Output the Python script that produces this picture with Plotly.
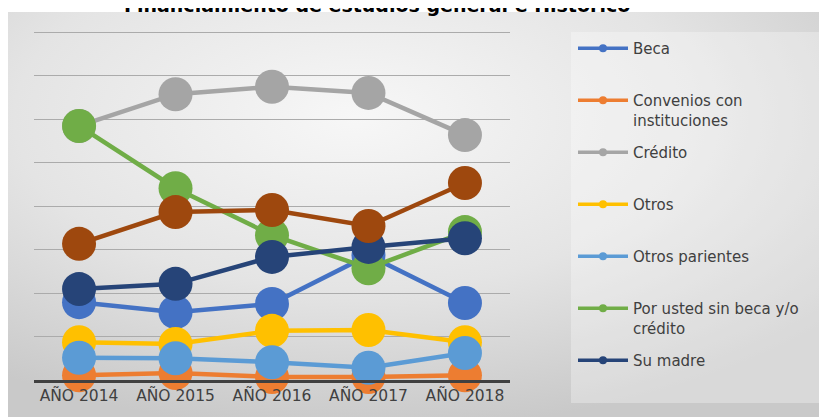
import base64
import plotly.graph_objects as go

years = ["AÑO 2014", "AÑO 2015", "AÑO 2016", "AÑO 2017", "AÑO 2018"]

beca = [1.79, 1.56, 1.75, 2.87, 1.77]
convenios = [0.11, 0.16, 0.07, 0.07, 0.11]
credito = [5.84, 6.57, 6.74, 6.60, 5.63]
otros = [0.87, 0.83, 1.13, 1.15, 0.87]
otros_parientes = [0.51, 0.50, 0.41, 0.28, 0.62]
por_usted = [5.84, 4.41, 3.33, 2.57, 3.40]
su_madre = [2.09, 2.21, 2.83, 3.06, 3.26]
su_padre = [3.13, 3.86, 3.91, 3.54, 4.53]

series = [
    ("Beca", beca, "#4472C4", True),
    ("Convenios con<br>instituciones", convenios, "#ED7D31", True),
    ("Crédito", credito, "#A5A5A5", True),
    ("Otros", otros, "#FFC000", True),
    ("Otros parientes", otros_parientes, "#5B9BD5", True),
    ("Por usted sin beca y/o<br>crédito", por_usted, "#70AD47", True),
    ("Su madre", su_madre, "#264478", True),
    ("Su padre", su_padre, "#9E480E", False),
]

# the page puts the figure 8px in from the top-left corner
OFF = 8
W, H = 827 - OFF, 417 - OFF
ML, MR, MT, MB = 34 - OFF, 827 - 510, 30 - OFF, 417 - 380
pw, ph = W - ML - MR, H - MT - MB
unit = 43.5  # px between gridlines
ytop = ph / unit


def px_x(p):
    return (p - OFF - ML) / pw


def px_y(p):
    return (H - MB - (p - OFF)) / ph


# background gradient of the chart area
svg = (
    '<svg xmlns="http://www.w3.org/2000/svg" width="819" height="407" '
    'viewBox="0 0 819 407" preserveAspectRatio="none">'
    '<defs><radialGradient id="g" cx="0.42" cy="0.25" r="0.75">'
    '<stop offset="0" stop-color="#f7f7f7"/>'
    '<stop offset="0.55" stop-color="#e4e4e4"/>'
    '<stop offset="1" stop-color="#c9c9c9"/>'
    '</radialGradient></defs>'
    '<rect width="819" height="407" fill="url(#g)"/></svg>'
)
bg_src = "data:image/svg+xml;base64," + base64.b64encode(svg.encode()).decode()

fig = go.Figure()

for name, vals, color, legend in series:
    fig.add_scatter(
        x=years, y=vals, mode="lines+markers", name=name.replace("<br>", " "),
        legendgroup=name, showlegend=False,
        line=dict(color=color, width=4.5),
        marker=dict(color=color, size=34),
        cliponaxis=False,
    )
    if legend:
        label = name if ("<br>" in name or name == "Su madre") else name + "<br> "
        fig.add_scatter(
            x=[None], y=[None], mode="lines+markers", name=label,
            legendgroup=name, showlegend=True,
            line=dict(color=color, width=3.5),
            marker=dict(color=color, size=8),
        )

fig.update_layout(
    width=W, height=H,
    margin=dict(l=ML, r=MR, t=MT, b=MB, autoexpand=False),
    paper_bgcolor="white",
    plot_bgcolor="rgba(0,0,0,0)",
    font=dict(family="DejaVu Sans", color="#404040"),
    images=[dict(
        source=bg_src, xref="paper", yref="paper",
        x=px_x(8), y=px_y(12), sizex=(W + 10) / pw, sizey=(H + 10) / ph,
        xanchor="left", yanchor="top", sizing="stretch", layer="below",
    )],
    shapes=[dict(
        type="rect", xref="paper", yref="paper", layer="below",
        x0=px_x(571), x1=px_x(840), y0=px_y(403), y1=px_y(32),
        fillcolor="rgba(255,255,255,0.3)", line=dict(width=0),
    )],
    annotations=[dict(
        text="<b>Financiamiento de estudios general e Histórico</b>",
        xref="paper", yref="paper", x=px_x(377), y=px_y(5),
        xanchor="center", yanchor="middle", showarrow=False,
        font=dict(size=19, color="black", family="DejaVu Sans"),
    )],
    legend=dict(
        x=px_x(573), y=px_y(32), xanchor="left", yanchor="top",
        bgcolor="rgba(0,0,0,0)", traceorder="grouped",
        tracegroupgap=10, valign="top", itemwidth=50,
        font=dict(size=15, color="#404040"),
    ),
    showlegend=True,
)

fig.update_xaxes(
    showgrid=False, showline=True, linecolor="#404040", linewidth=2.5,
    ticks="", tickfont=dict(size=15.5, color="#404040"), fixedrange=True,
)
fig.update_yaxes(
    range=[0, ytop], dtick=1, showgrid=True, gridcolor="#ababab", gridwidth=1.3,
    showticklabels=False, zeroline=False, fixedrange=True,
)

fig.write_html("out.html")
